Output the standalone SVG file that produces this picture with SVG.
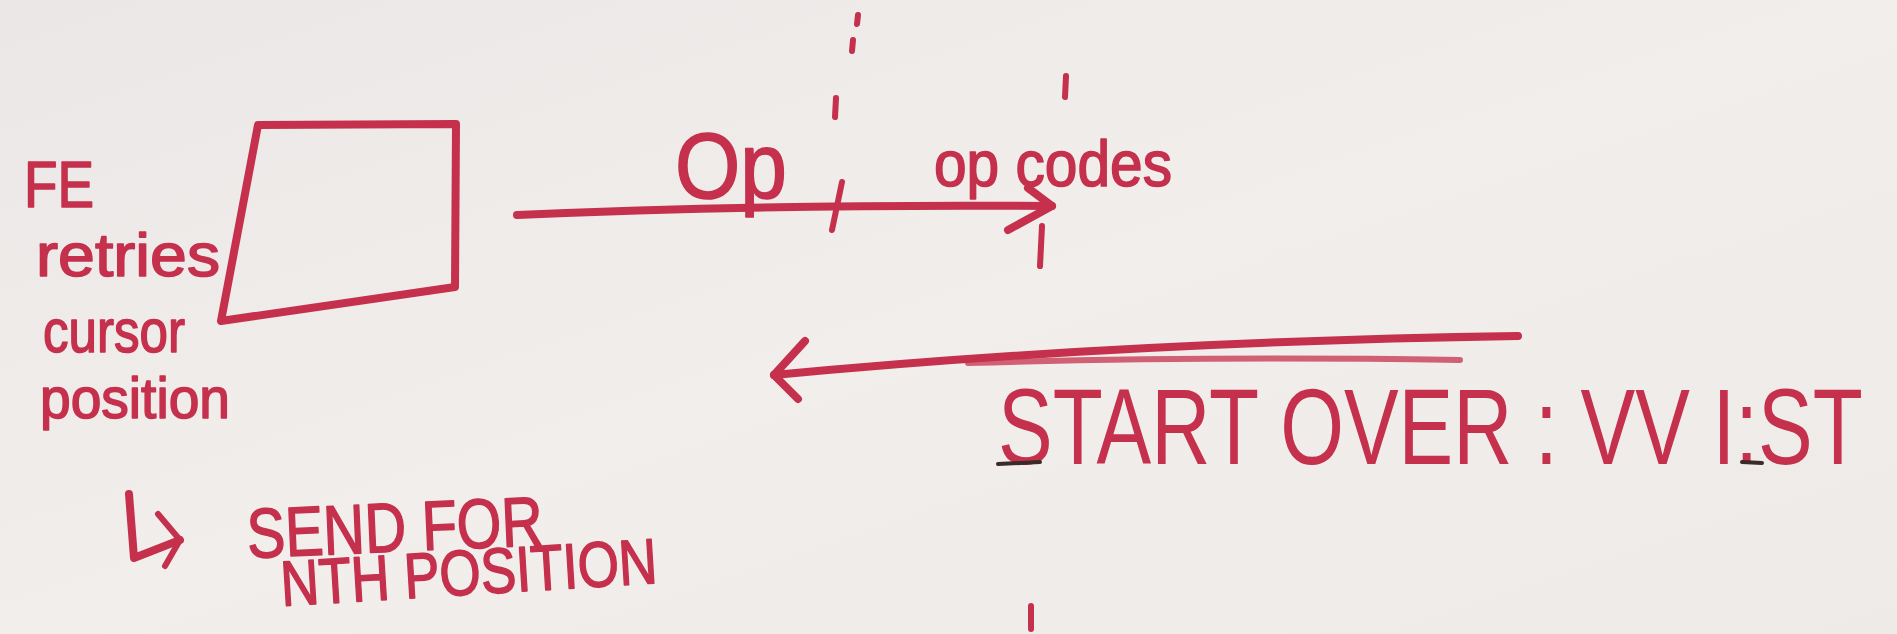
<svg xmlns="http://www.w3.org/2000/svg" width="1897" height="634" viewBox="0 0 1897 634">
  <defs>
    <linearGradient id="board" x1="0" y1="0" x2="1" y2="1">
      <stop offset="0" stop-color="#ebe7e6"/>
      <stop offset="0.5" stop-color="#f1eeec"/>
      <stop offset="1" stop-color="#eeeae8"/>
    </linearGradient>
    <style>
      .ink { fill: none; stroke: #c5304c; stroke-width: 8; stroke-linecap: round; stroke-linejoin: round; }
      .thin { stroke-width: 6; }
      .faint { stroke-opacity: 0.75; }
      .dark { fill: none; stroke: #3a2a28; stroke-width: 4; stroke-linecap: round; }
      .hand { fill: #c5304c; font-family: "Liberation Sans", "DejaVu Sans", sans-serif; }
      .marker { stroke: #c5304c; stroke-width: 1.6; stroke-linejoin: round; }
    </style>
  </defs>

  <!-- whiteboard -->
  <rect width="1897" height="634" fill="url(#board)"/>

  <!-- connectors -->
  <g id="connectors">
    <!-- Op arrow to the right -->
    <path class="ink" d="M517,215 Q760,204 1052,206"/>
    <path class="ink" d="M1028,188 L1052,206 L1008,230"/>
    <!-- start-over arrow back to the left -->
    <path class="ink" d="M1518,336 Q1120,342 774,375"/>
    <path class="ink thin faint" d="M1460,360 Q1200,356 968,363"/>
    <path class="ink" d="M805,341 L774,375 L798,399"/>
    <!-- dashed divider through "Op" -->
    <path class="ink thin" d="M858,15 L857,24 M853,40 L852,51 M836,98 L835,117 M842,182 L832,230"/>
    <!-- dashed divider right of op codes -->
    <path class="ink thin" d="M1066,76 L1065,97 M1042,226 L1040,266 M1031,606 L1031,629"/>
    <!-- hook arrow -->
    <path class="ink" d="M129,494 L134,558 L180,540"/>
    <path class="ink thin" d="M158,514 L180,540 L165,566"/>
  </g>

  <!-- front-end node -->
  <g id="node-fe">
    <path class="ink" d="M258,125 L456,124 L455,287 L221,321 Z"/>
  </g>

  <g id="label-fe">
    <text class="hand marker" x="24" y="207" font-size="64" textLength="70" lengthAdjust="spacingAndGlyphs">FE</text>
    <text class="hand marker" x="36" y="276" font-size="62" textLength="184" lengthAdjust="spacingAndGlyphs">retries</text>
    <text class="hand marker" x="43" y="352" font-size="62" textLength="142" lengthAdjust="spacingAndGlyphs">cursor</text>
    <text class="hand marker" x="40" y="418" font-size="58" textLength="190" lengthAdjust="spacingAndGlyphs">position</text>
  </g>

  <g id="label-send">
    <text class="hand marker" x="248" y="558" font-size="70" textLength="296" lengthAdjust="spacingAndGlyphs" transform="rotate(-2.5 248 558)">SEND FOR</text>
    <text class="hand marker" x="282" y="606" font-size="64" textLength="377" lengthAdjust="spacingAndGlyphs" transform="rotate(-3.5 282 606)">NTH POSITION</text>
  </g>

  <g id="label-op">
    <text class="hand marker" x="675" y="198" font-size="92" textLength="112" lengthAdjust="spacingAndGlyphs">Op</text>
  </g>

  <g id="label-opcodes">
    <text class="hand marker" x="934" y="186" font-size="64" textLength="238" lengthAdjust="spacingAndGlyphs">op codes</text>
  </g>

  <g id="label-start-over">
    <text class="hand" transform="translate(998,464) scale(0.75,1)" x="0" y="0" font-size="108" textLength="1153" lengthAdjust="spacingAndGlyphs">START OVER : VV I:ST</text>
    <path class="dark" d="M998,464 L1040,462 M1742,462 L1762,463"/>
  </g>
</svg>
